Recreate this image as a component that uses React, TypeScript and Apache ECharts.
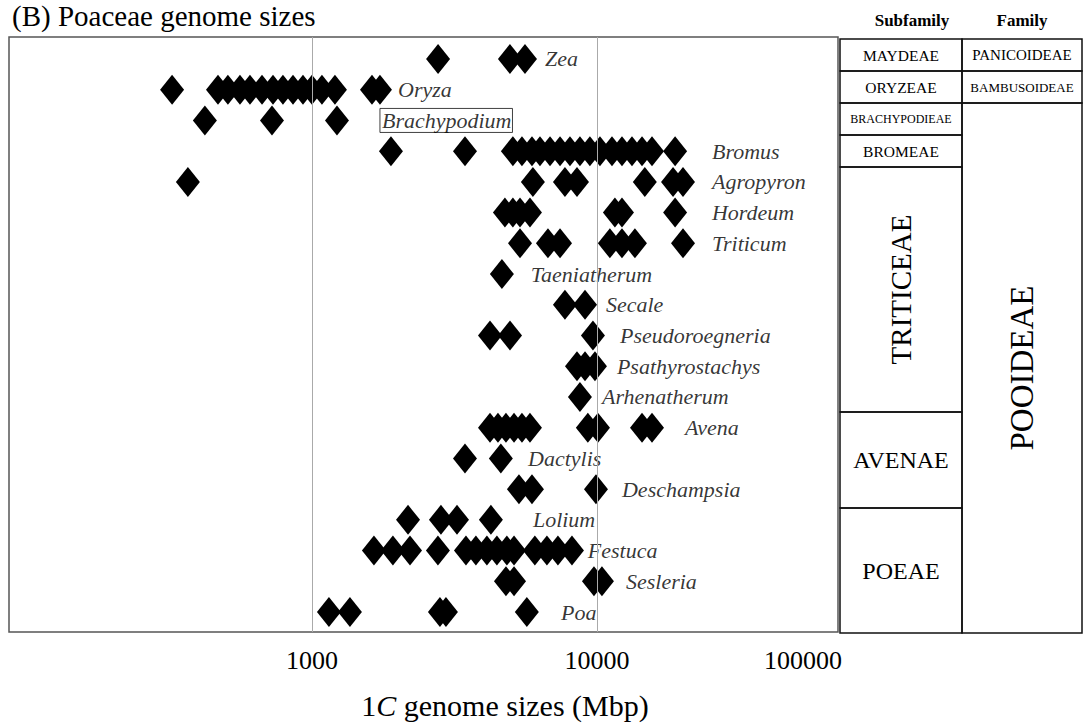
import React, { useEffect, useRef } from "react";
import * as echarts from "echarts";

// ---- Data (1C genome sizes, Mbp) ----
const genera = [
  "Zea", "Oryza", "Brachypodium", "Bromus", "Agropyron", "Hordeum", "Triticum",
  "Taeniatherum", "Secale", "Pseudoroegneria", "Psathyrostachys", "Arhenatherum",
  "Avena", "Dactylis", "Deschampsia", "Lolium", "Festuca", "Sesleria", "Poa",
];

const zea = [2770, 4950, 5590];
const oryza = [323, 468, 507, 559, 606, 668, 730, 791, 858, 930, 1000, 1084, 1204, 1624, 1732];
const brachypodium = [421, 724, 1224];
const bromus = [1893, 3443, 5070, 5455, 5915, 6310, 6843, 7420, 8040, 8715, 9445, 10245, 11290, 12240, 13270, 14390, 15600, 18800];
const agropyron = [367, 5960, 7720, 8510, 14720, 18490, 20040];
const hordeum = [4754, 5070, 5370, 5820, 11560, 12240, 18800];
const triticum = [5370, 6730, 7420, 11100, 12240, 13590, 20040];
const taeniatherum = [4640];
const secale = [7720, 9080];
const pseudoroegneria = [4214, 4953, 9680];
const psathyrostachys = [8510, 9080, 9840];
const arhenatherum = [8715];
const avena = [4214, 4494, 4794, 5117, 5455, 5820, 9290, 10080, 14390, 15600];
const dactylis = [3443, 4600];
const deschampsia = [5325, 5915, 9920];
const lolium = [2173, 2835, 3228, 4245];
const festuca = [1650, 1923, 2208, 2767, 3470, 3760, 4110, 4455, 4830, 5117, 6055, 6675, 7295, 8170];
const sesleria = [4794, 5117, 9760, 10410];
const poa = [1147, 1359, 2812, 2952, 5675];

const genomeSizes = [
  zea, oryza, brachypodium, bromus, agropyron, hordeum, triticum, taeniatherum, secale,
  pseudoroegneria, psathyrostachys, arhenatherum, avena, dactylis, deschampsia, lolium,
  festuca, sesleria, poa,
];

// x value (Mbp) where each genus name starts
const labelAnchors = [6570, 2004, 1732, 25320, 25320, 25320, 25320, 5860, 10750, 12040, 11750, 10410, 20370, 5730, 12240, 5960, 9290, 12640, 7476];

const tickLabels = ["1000", "10000", "100000"];
const gridValues = [1000, 10000];

const subfamilyNames = ["MAYDEAE", "ORYZEAE", "BRACHYPODIEAE", "BROMEAE", "TRITICEAE", "AVENAE", "POEAE"];
const familyNames = ["PANICOIDEAE", "BAMBUSOIDEAE", "POOIDEAE"];

// ---- Layout ----
const SERIF = "Liberation Serif, Times New Roman, serif";
const INK = "#000";
const subBounds = [39, 71, 103, 135, 167, 412, 508, 633];
const subFont = [15.5, 15.5, 12, 15.5, 29, 24, 24];
const subVertical = [false, false, false, false, true, false, false];
const famBounds = [39, 71, 103, 633];
const famFont = [15, 13, 33];
const famVertical = [false, false, true];
const SUB_X = 840, SUB_W = 122, FAM_X = 962, FAM_W = 120;

export default function App() {
  const ref = useRef<HTMLDivElement>(null);

  useEffect(() => {
    if (!ref.current) return;
    const chart = echarts.init(ref.current, null, { renderer: "svg" });

    const points: any[] = [];
    genomeSizes.forEach((arr, i) => arr.forEach((v) => points.push([v, i])));

    const labelData = genera.map((g, i) => {
      const item: any = { name: g, value: [labelAnchors[i], i] };
      if (g === "Brachypodium") {
        item.label = { borderColor: "#111", borderWidth: 1, padding: [2, 1, 0, 2] };
      }
      return item;
    });

    const txt = (x: number, y: number, text: string, size: number, extra: any = {}, rotation = 0) => ({
      type: "text", x, y, rotation,
      style: {
        text, fontFamily: SERIF, fontSize: size, fill: INK,
        align: "center", verticalAlign: "middle", ...extra,
      },
    });

    const graphics: any[] = [];
    graphics.push({
      type: "text", x: 12, y: 1,
      style: { text: "(B) Poaceae genome sizes", fontFamily: SERIF, fontSize: 29, fill: INK, align: "left", verticalAlign: "top" },
    });
    graphics.push(txt(912, 20, "Subfamily", 17, { fontWeight: "bold" }));
    graphics.push(txt(1022, 20, "Family", 17, { fontWeight: "bold" }));
    subfamilyNames.forEach((n, i) => {
      const y0 = subBounds[i], y1 = subBounds[i + 1];
      graphics.push({
        type: "rect", shape: { x: SUB_X, y: y0, width: SUB_W, height: y1 - y0 },
        style: { fill: "none", stroke: "#111", lineWidth: 1.5 },
      });
      graphics.push(txt(SUB_X + SUB_W / 2, (y0 + y1) / 2, n, subFont[i], {}, subVertical[i] ? Math.PI / 2 : 0));
    });
    familyNames.forEach((n, i) => {
      const y0 = famBounds[i], y1 = famBounds[i + 1];
      graphics.push({
        type: "rect", shape: { x: FAM_X, y: y0, width: FAM_W, height: y1 - y0 },
        style: { fill: "none", stroke: "#111", lineWidth: 1.5 },
      });
      graphics.push(txt(FAM_X + FAM_W / 2, (y0 + y1) / 2, n, famFont[i], {}, famVertical[i] ? Math.PI / 2 : 0));
    });
    graphics.push(txt(803, 660, tickLabels[2], 26));
    graphics.push({
      type: "text", x: 505, y: 705,
      style: {
        text: "{n|1}{i|C}{n| genome sizes (Mbp)}",
        align: "center", verticalAlign: "middle",
        rich: {
          n: { fontFamily: SERIF, fontSize: 30, fill: INK },
          i: { fontFamily: SERIF, fontSize: 30, fontStyle: "italic", fill: INK },
        },
      },
    });

    chart.setOption({
      animation: false,
      backgroundColor: "#fff",
      grid: {
        left: 9, top: 37, right: 247, bottom: 94,
        show: true, borderColor: "#555", borderWidth: 1.5, backgroundColor: "transparent",
      },
      xAxis: {
        type: "log", logBase: 10, min: 86.5, max: 70100,
        axisLine: { show: false }, axisTick: { show: false }, splitLine: { show: false },
        axisLabel: {
          showMinLabel: false, showMaxLabel: false,
          fontFamily: SERIF, fontSize: 26, color: INK, margin: 15,
          formatter: (v: number) => {
            const r = Math.round(v);
            return tickLabels.includes(String(r)) ? String(r) : "";
          },
        },
      },
      yAxis: {
        type: "value", inverse: true, min: -0.716, max: 18.65, show: false,
      },
      graphic: graphics,
      series: [
        {
          type: "scatter", symbol: "diamond", symbolSize: [24, 30],
          itemStyle: { color: "#000", opacity: 1 }, data: points, z: 3, silent: true,
          markLine: {
            silent: true, symbol: ["none", "none"], label: { show: false },
            lineStyle: { color: "#aaa", width: 1, type: "solid" },
            data: gridValues.map((v) => ({ xAxis: v })),
          },
        },
        {
          type: "scatter", symbolSize: 0, data: labelData, z: 4, silent: true,
          itemStyle: { color: "transparent" },
          label: {
            show: true, position: "right", distance: 0, formatter: "{b}",
            fontFamily: SERIF, fontStyle: "italic", fontSize: 22, color: INK,
            verticalAlign: "middle",
          },
        },
      ],
    });

    return () => chart.dispose();
  }, []);

  return (
    <div
      ref={ref}
      style={{ position: "absolute", left: 0, top: 0, width: 1085, height: 726, background: "#fff" }}
    />
  );
}
